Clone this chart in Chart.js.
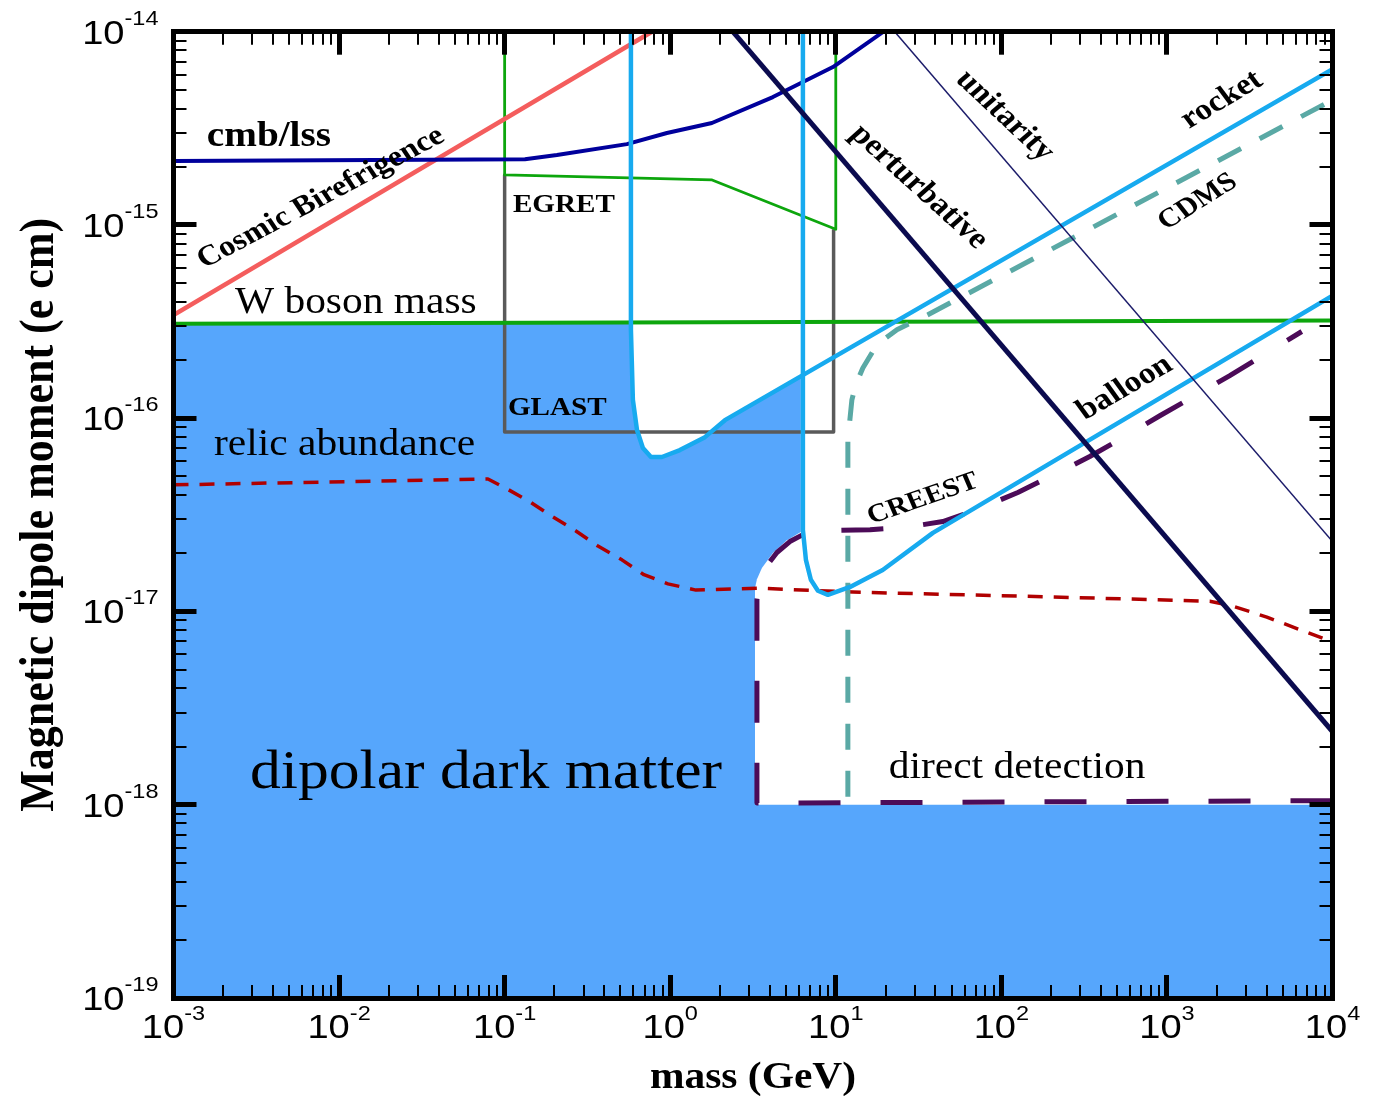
<!DOCTYPE html>
<html>
<head>
<meta charset="utf-8">
<title>Dipolar dark matter constraints</title>
<script src="https://cdn.jsdelivr.net/npm/chart.js"></script>
<style>
  html, body { margin: 0; padding: 0; background: #fff; }
  #wrap { width: 1388px; height: 1096px; position: relative; }
</style>
</head>
<body>
<div id="wrap"><canvas id="chart"></canvas></div>
<script>
// mass in GeV (x), magnetic dipole moment in e cm (y), both log scales
const xTickExponents = [-3, -2, -1, 0, 1, 2, 3, 4];
const yTickExponents = [-19, -18, -17, -16, -15, -14];

// blue allowed region (filled down to the bottom of the plot)
const allowedRegion = [
  [1e-3, 3.08e-16], [0.579, 3.1e-16], [0.579, 2.87e-16], [0.595, 1.245e-16],
  [0.63, 8.69e-17], [0.684, 7.01e-17], [0.765, 6.3e-17], [0.891, 6.3e-17],
  [1.144, 6.84e-17], [1.62, 7.98e-17], [2.14, 9.77e-17], [6.15, 1.65e-16],
  [6.15, 1e-18], [1e4, 1e-18]
];
// white notch cut out of the region above 1e-18 (direct detection)
const directDetectionGap = [
  [3.25, 1.32e-17], [3.34, 1.47e-17], [3.58, 1.68e-17], [4.17, 2.01e-17],
  [5.07, 2.34e-17], [6.15, 2.58e-17], [6.7, 2.6e-17]
];

const wBosonMass = [[1e-3, 3.08e-16], [1e4, 3.2e-16]];
const glastBox = [[0.1, 1.815e-15], [0.1, 8.49e-17], [9.7, 8.49e-17], [9.7, 9.5e-16]];
const egret = [[0.1, 1e-14], [0.1, 1.815e-15], [1.79, 1.71e-15], [10, 9.5e-16], [10, 1e-14]];
const cosmicBirefringence = [[1e-3, 3.42e-16], [0.775, 1e-14]];
const cmbLss = [
  [1e-3, 2.14e-15], [0.1326, 2.19e-15], [0.2069, 2.3e-15], [0.5477, 2.62e-15],
  [0.955, 2.99e-15], [1.785, 3.37e-15], [4.17, 4.59e-15], [9.61, 6.56e-15], [19.4, 1e-14]
];
const relicAbundance = [
  [1e-3, 4.52e-17], [0.0793, 4.85e-17], [0.1033, 4.31e-17], [0.1422, 3.69e-17],
  [0.1904, 3.13e-17], [0.2695, 2.61e-17], [0.366, 2.18e-17], [0.5107, 1.85e-17],
  [0.6937, 1.55e-17], [0.9685, 1.39e-17], [1.43, 1.29e-17], [3.34, 1.32e-17],
  [12.7, 1.26e-17], [196, 1.19e-17], [1816, 1.13e-17], [2466, 1.07e-17],
  [4012, 9.35e-18], [1e4, 6.95e-18]
];
const creest = [
  [1e4, 1.05e-18], [3.34, 1.02e-18], [3.34, 1.15e-17], [3.48, 1.45e-17],
  [3.84, 1.73e-17], [4.41, 2.02e-17], [5.28, 2.3e-17], [6.51, 2.53e-17],
  [9.21, 2.62e-17], [16.1, 2.65e-17], [26.1, 2.72e-17], [44.3, 2.92e-17],
  [74.2, 3.41e-17], [125.8, 4.13e-17], [210, 5.12e-17], [342, 6.34e-17],
  [557, 8.04e-17], [906, 1.03e-16], [2398, 1.66e-16], [6525, 2.81e-16]
];
const cdms = [
  [11.83, 1.1e-18], [11.83, 7.73e-17], [12.51, 1.245e-16], [13.2, 1.49e-16],
  [14.57, 1.82e-16], [17.7, 2.4e-16], [23.4, 2.87e-16], [36.0, 3.43e-16], [8970, 4.22e-15]
];
const rocket = [
  [0.579, 1e-14], [0.579, 2.87e-16], [0.595, 1.245e-16], [0.63, 8.69e-17],
  [0.684, 7.01e-17], [0.765, 6.3e-17], [0.891, 6.3e-17], [1.144, 6.84e-17],
  [1.62, 7.98e-17], [2.14, 9.77e-17], [1e4, 6.4e-15]
];
const balloon = [
  [6.33, 1e-14], [6.33, 2.64e-17], [6.6, 1.85e-17], [7.07, 1.46e-17],
  [7.8, 1.28e-17], [8.96, 1.22e-17], [12.2, 1.34e-17], [19.2, 1.64e-17],
  [38.6, 2.55e-17], [1e4, 4.3e-16]
];
const perturbative = [[2.39, 1e-14], [1e4, 2.39e-18]];
const unitarity = [[22.7, 1e-14], [1e4, 2.3e-17]];

// labels placed in data coordinates
const annotations = [
  { text: 'cmb/lss', mass: 1.59e-3, moment: 2.56e-15, font: 'bold 35px', align: 'left' },
  { text: 'W boson mass', mass: 2.35e-3, moment: 3.5e-16, font: '37px', align: 'left' },
  { text: 'EGRET', mass: 0.1122, moment: 1.167e-15, font: 'bold 26px', align: 'left' },
  { text: 'GLAST', mass: 0.1047, moment: 1.04e-16, font: 'bold 26px', align: 'left' },
  { text: 'relic abundance', mass: 1.757e-3, moment: 6.46e-17, font: '37px', align: 'left' },
  { text: 'dipolar dark matter', mass: 2.9e-3, moment: 1.22e-18, font: '55px', align: 'left' },
  { text: 'direct detection', mass: 20.9, moment: 1.38e-18, font: '37px', align: 'left' },
  { text: 'Cosmic Birefrigence', mass: 7.77e-3, moment: 1.379e-15, font: 'bold 29px', angle: -28 },
  { text: 'perturbative', mass: 31.8, moment: 1.572e-15, font: 'bold 30px', angle: 42 },
  { text: 'unitarity', mass: 105, moment: 3.66e-15, font: 'bold 30px', angle: 43 },
  { text: 'rocket', mass: 2146, moment: 4.43e-15, font: 'bold 30px', angle: -31 },
  { text: 'CDMS', mass: 1537, moment: 1.315e-15, font: 'bold 27px', angle: -32 },
  { text: 'balloon', mass: 557, moment: 1.434e-16, font: 'bold 30px', angle: -30 },
  { text: 'CREEST', mass: 33.6, moment: 3.82e-17, font: 'bold 26px', angle: -19 }
];

const SERIF = '"Liberation Serif", "Times New Roman", serif';
const SANS = '"Liberation Sans", Arial, sans-serif';
const STRETCH = 1.12; // the figure's text is a bit wide

const xMajor = xTickExponents.map(e => Math.pow(10, e));
const yMajor = yTickExponents.map(e => Math.pow(10, e));
const minorOf = (exps) => {
  const out = [];
  exps.slice(0, -1).forEach(e => {
    for (let k = 2; k <= 9; k++) out.push(k * Math.pow(10, e));
  });
  return out;
};
const xMinor = minorOf(xTickExponents);
const yMinor = minorOf(yTickExponents);

function series(points, style) {
  return Object.assign({
    data: points.map(p => ({ x: p[0], y: p[1] })),
    xAxisID: 'x', yAxisID: 'y',
    pointRadius: 0, borderWidth: 4, fill: false, tension: 0,
    borderJoinStyle: 'round'
  }, style);
}

const datasets = [
  series(allowedRegion, { borderWidth: 0, borderColor: 'rgba(0,0,0,0)', backgroundColor: '#56a6fc', fill: 'start' }),
  series(directDetectionGap, { borderWidth: 0, borderColor: 'rgba(0,0,0,0)', backgroundColor: '#ffffff', fill: { value: 1e-18 } }),
  series(glastBox, { borderColor: '#5a5a5a', borderWidth: 3.5 }),
  series(egret, { borderColor: '#0da60d', borderWidth: 2.8 }),
  series(wBosonMass, { borderColor: '#0da60d', borderWidth: 4 }),
  series(creest, { borderColor: '#4c0b58', borderWidth: 5, borderDash: [42, 40] }),
  series(relicAbundance, { borderColor: '#b00000', borderWidth: 3.5, borderDash: [15, 11] }),
  series(cdms, { borderColor: '#5aa9a5', borderWidth: 5, borderDash: [26, 21] }),
  series(cosmicBirefringence, { borderColor: '#f45d5d', borderWidth: 4.5 }),
  series(cmbLss, { borderColor: '#00009c', borderWidth: 4 }),
  series(rocket, { borderColor: '#17aaef', borderWidth: 4.5 }),
  series(balloon, { borderColor: '#17aaef', borderWidth: 4.5 }),
  series(unitarity, { borderColor: '#1c1c6a', borderWidth: 1.5 }),
  series(perturbative, { borderColor: '#0b0b4f', borderWidth: 5 })
];
// first dataset at the bottom
datasets.forEach((d, i) => { d.order = datasets.length - i; });

// frame axes: ticks point inward, major and minor ticks on separate scales
function frameScale(axis, position, ticks, major) {
  return {
    type: 'logarithmic',
    axis: axis,
    position: position,
    min: axis === 'x' ? 1e-3 : 1e-19,
    max: axis === 'x' ? 1e4 : 1e-14,
    afterBuildTicks: (s) => { s.ticks = ticks.map(v => ({ value: v })); },
    afterFit: (s) => { if (axis === 'x') s.height = 0; else s.width = 0; },
    ticks: { display: false, autoSkip: false, callback: () => '' },
    title: { display: false },
    grid: {
      display: true, drawOnChartArea: false, drawTicks: true,
      tickLength: major ? -23 : -13,
      tickWidth: major ? 5 : 2, lineWidth: major ? 5 : 2,
      tickColor: '#000', color: '#000', z: 2
    },
    border: { display: major, width: 5, color: '#000', z: 2 }
  };
}

function stretchedText(ctx, text, x, y, font, align, baseline, angleDeg) {
  ctx.save();
  ctx.translate(x, y);
  ctx.scale(STRETCH, 1);
  if (angleDeg) {
    const a = angleDeg * Math.PI / 180;
    ctx.rotate(Math.atan2(STRETCH * Math.sin(a), Math.cos(a)));
  }
  ctx.font = font;
  ctx.fillStyle = '#000';
  ctx.textAlign = align;
  ctx.textBaseline = baseline;
  ctx.fillText(text, 0, 0);
  ctx.restore();
}

const textPlugin = {
  id: 'figureText',
  afterDraw(chart) {
    const ctx = chart.ctx;
    const area = chart.chartArea;
    const xs = chart.scales.x;
    const ys = chart.scales.y;
    const baseFont = `34px ${SANS}`;
    const expFont = `21px ${SANS}`;

    ctx.font = baseFont;
    const bw = ctx.measureText('10').width * STRETCH;

    // y tick labels, right aligned
    yTickExponents.forEach(e => {
      const py = ys.getPixelForValue(Math.pow(10, e));
      const exp = String(e);
      ctx.font = expFont;
      const ew = ctx.measureText(exp).width * STRETCH;
      const right = area.left - 15;
      stretchedText(ctx, exp, right - ew, py - 7, expFont, 'left', 'alphabetic');
      stretchedText(ctx, '10', right - ew - bw, py + 12, baseFont, 'left', 'alphabetic');
    });

    // x tick labels, centred on the tick
    xTickExponents.forEach(e => {
      const px = xs.getPixelForValue(Math.pow(10, e));
      const exp = String(e);
      ctx.font = expFont;
      const ew = ctx.measureText(exp).width * STRETCH;
      const start = px - (bw + ew) / 2;
      stretchedText(ctx, '10', start, area.bottom + 40, baseFont, 'left', 'alphabetic');
      stretchedText(ctx, exp, start + bw, area.bottom + 22, expFont, 'left', 'alphabetic');
    });

    // axis titles
    stretchedText(ctx, 'mass (GeV)', (area.left + area.right) / 2, area.bottom + 90,
      `bold 37px ${SERIF}`, 'center', 'alphabetic');
    stretchedText(ctx, 'Magnetic dipole moment (e cm)', area.left - 121, (area.top + area.bottom) / 2,
      `bold 44px ${SERIF}`, 'center', 'alphabetic', -90);

    // in-plot labels
    annotations.forEach(a => {
      const px = xs.getPixelForValue(a.mass);
      const py = ys.getPixelForValue(a.moment);
      const font = `${a.font} ${SERIF}`;
      if (a.align === 'left') {
        stretchedText(ctx, a.text, px, py, font, 'left', 'alphabetic');
      } else {
        stretchedText(ctx, a.text, px, py, font, 'center', 'middle', a.angle || 0);
      }
    });
  }
};

new Chart(document.getElementById('chart'), {
  type: 'line',
  data: { datasets: datasets },
  options: {
    responsive: true,
    maintainAspectRatio: false,
    animation: false,
    events: [],
    layout: { padding: { left: 173.5, top: 31.7, right: 55.5, bottom: 98 } },
    plugins: {
      legend: { display: false },
      tooltip: { enabled: false },
      title: { display: false }
    },
    scales: {
      x: frameScale('x', 'bottom', xMajor, true),
      xMinor: frameScale('x', 'bottom', xMinor, false),
      xTop: frameScale('x', 'top', xMajor, true),
      xTopMinor: frameScale('x', 'top', xMinor, false),
      y: frameScale('y', 'left', yMajor, true),
      yMinor: frameScale('y', 'left', yMinor, false),
      yRight: frameScale('y', 'right', yMajor, true),
      yRightMinor: frameScale('y', 'right', yMinor, false)
    }
  },
  plugins: [textPlugin]
});
</script>
</body>
</html>
